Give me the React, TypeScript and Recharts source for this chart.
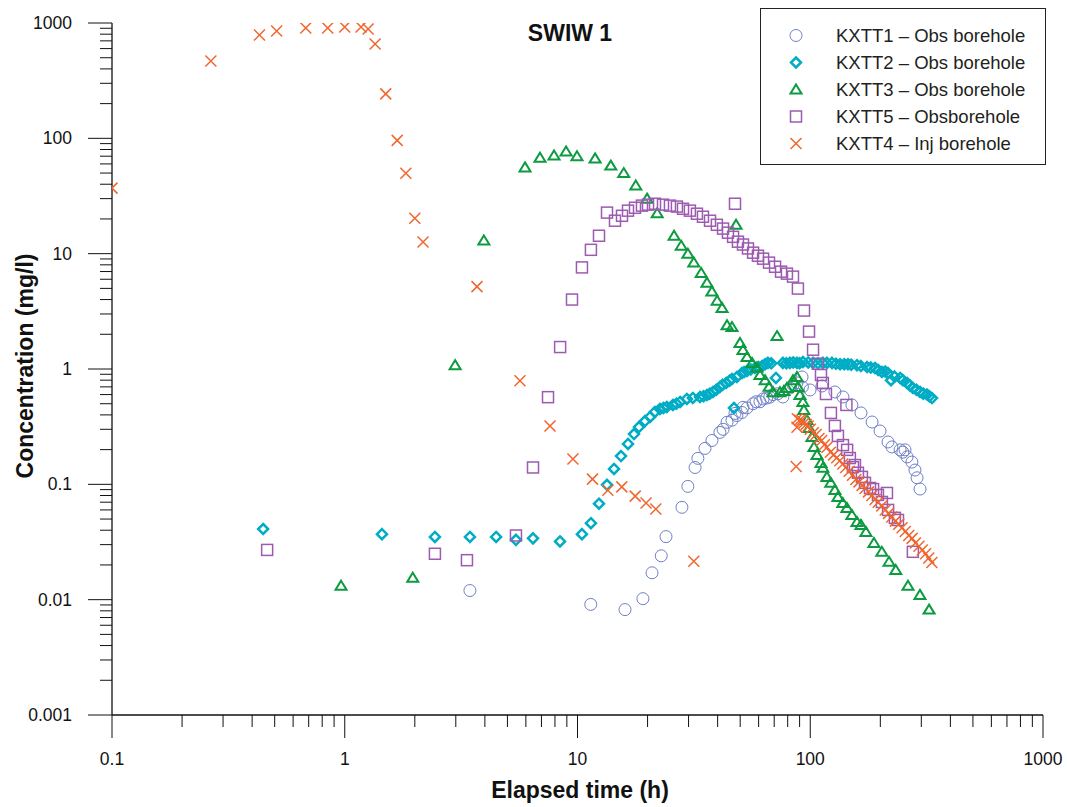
import { ScatterChart, Scatter, XAxis, YAxis } from 'recharts'

// axes
const xDecades = [0.1, 1, 10, 100, 1000]
const yDecades = [0.001, 0.01, 0.1, 1, 10, 100, 1000]
const steps = [1, 2, 3, 4, 5, 6, 7, 8, 9]
const xTicks = xDecades.slice(0, -1).flatMap(d => steps.map(m => m * d)).concat([1000])
const yTicks = yDecades.slice(0, -1).flatMap(d => steps.map(m => m * d)).concat([1000])

// [elapsed time (h), concentration (mg/l)]
const kxtt1: [number, number][] = [
  [3.45, 0.012], [11.4, 0.0091], [16, 0.0082], [19.1, 0.0102], [20.9, 0.0171], [22.9, 0.024],
  [24, 0.0352], [28.1, 0.0632], [29.8, 0.096], [32, 0.14], [32.9, 0.168], [35.3, 0.205],
  [37.8, 0.24], [40.9, 0.282], [42.2, 0.3], [43.9, 0.345], [46.1, 0.36], [47.5, 0.412],
  [48.4, 0.395], [50.9, 0.42], [51.4, 0.465], [53.5, 0.46], [56.8, 0.5], [58.5, 0.52],
  [60.8, 0.52], [62.7, 0.55], [64.9, 0.56], [67, 0.57], [69.2, 0.6], [72.5, 0.61],
  [76.3, 0.572], [81.8, 0.684], [84.3, 0.726], [87.7, 0.757], [92.2, 0.853], [92.5, 0.698],
  [99.8, 0.658], [112.3, 0.712], [127.6, 0.632], [138.2, 0.572], [151, 0.488], [165.2, 0.416],
  [184.3, 0.347], [199.4, 0.29], [215.8, 0.233], [224.4, 0.211], [243.2, 0.199], [250, 0.19],
  [255.4, 0.199], [260.6, 0.173], [273.4, 0.156], [281.8, 0.133], [287.6, 0.114], [296.3, 0.091],
]

const kxtt2: [number, number][] = [
  [0.446, 0.041], [1.445, 0.037], [2.44, 0.035], [3.45, 0.035], [4.47, 0.035], [5.44, 0.033],
  [6.44, 0.034], [8.41, 0.032], [10.45, 0.037], [11.42, 0.046], [12.37, 0.068], [13.39, 0.099],
  [14.35, 0.136], [15.38, 0.176], [16.48, 0.224], [17.49, 0.273], [18.37, 0.314], [19.5, 0.354],
  [20.5, 0.384], [21.5, 0.424], [22.6, 0.45], [23.4, 0.46], [24.2, 0.469], [25.7, 0.488],
  [26.6, 0.5], [27.6, 0.518], [29.5, 0.55], [31.3, 0.561], [33.6, 0.572], [34.8, 0.58],
  [36, 0.595], [37, 0.61], [38.2, 0.632], [39.5, 0.66], [40.9, 0.698], [42, 0.73],
  [43.5, 0.757], [45, 0.79], [46.1, 0.819], [47, 0.459], [48.4, 0.853], [50.9, 0.923],
  [52, 0.94], [53.5, 0.961], [55.5, 0.99], [57.9, 1.02], [60, 1.04], [62.1, 1.06],
  [64, 1.1], [65.8, 1.13], [68, 1.12], [71.2, 0.836], [76.3, 1.13], [79, 1.12],
  [81.8, 1.13], [84.5, 1.14], [87.7, 1.13], [90, 1.12], [93, 1.15], [98, 1.14],
  [102.8, 1.13], [108, 1.12], [113.4, 1.13], [118, 1.13], [124, 1.13], [129, 1.11],
  [134.3, 1.1], [140, 1.1], [145.2, 1.1], [150, 1.09], [158.8, 1.08], [165, 1.06],
  [175.4, 1.04], [182, 1.03], [189.7, 1.02], [196, 0.98], [203.2, 0.942], [210, 0.95],
  [215.8, 0.923], [222.3, 0.8], [230, 0.86], [243.2, 0.836], [250, 0.8], [260.6, 0.757],
  [268, 0.72], [276.3, 0.684], [286, 0.66], [296.3, 0.632], [306, 0.61], [317.5, 0.6],
  [325, 0.58], [333.5, 0.56],
]

const kxtt3: [number, number][] = [
  [0.964, 0.0132], [1.96, 0.0155], [2.98, 1.08], [3.96, 13], [5.95, 56], [6.9, 68],
  [7.93, 71], [8.93, 77], [9.95, 70], [11.9, 67], [13.9, 58], [15.8, 50],
  [17.8, 39], [19.9, 30], [22, 22.4], [26, 14.3], [27.9, 11.7], [29.8, 10],
  [31.6, 8.4], [34, 6.8], [36, 5.6], [37.8, 4.7], [39.8, 3.9], [41.8, 3.38],
  [43.9, 2.4], [46.1, 2.31], [48, 17.8], [49.9, 1.68], [51.4, 1.46], [53.5, 1.27],
  [56.2, 1.13], [59, 1.03], [60.8, 0.887], [64, 0.8], [66.5, 0.7], [69.2, 0.63],
  [72, 1.93], [74.1, 0.63], [77, 0.645], [79.4, 0.684], [84.3, 0.8], [87.7, 0.853],
  [88.6, 0.698], [90.3, 0.595], [93, 0.518], [93.9, 0.441], [96.8, 0.361], [98.8, 0.308],
  [101.7, 0.257], [103.8, 0.211], [106.9, 0.18], [111.2, 0.153], [113.3, 0.139], [117.9, 0.116],
  [122.5, 0.103], [127.6, 0.0894], [131.5, 0.0778], [138, 0.069], [143.8, 0.0624], [151, 0.0543],
  [158.8, 0.0472], [165.2, 0.0445], [173.4, 0.0387], [187.8, 0.031], [203, 0.026], [218, 0.0213],
  [233, 0.0181], [263, 0.0132], [296, 0.011], [324, 0.0082],
]

const kxtt5: [number, number][] = [
  [0.464, 0.027], [2.44, 0.025], [3.35, 0.022], [5.44, 0.036], [6.44, 0.14], [7.47, 0.57],
  [8.42, 1.55], [9.47, 4.0], [10.45, 7.6], [11.42, 10.8], [12.37, 14.3], [13.39, 22.7],
  [14.49, 19.3], [15.53, 21.3], [16.48, 23.6], [17.66, 25], [18.92, 26.1], [20.09, 26.6],
  [21.53, 27.1], [23.3, 26.6], [24.96, 26.1], [26.74, 25.6], [28.4, 24.5], [30.4, 23.6],
  [32.6, 22.2], [34.6, 20.9], [37.1, 19.3], [39.7, 17.8], [42.2, 16.5], [44.3, 15.2],
  [46.6, 14.0], [47.5, 27.1], [48.9, 12.7], [51.4, 12], [54, 11.1], [56.8, 10.2],
  [59.6, 9.6], [62.7, 9.05], [66.5, 8.36], [70.6, 7.7], [74.9, 6.98], [79.4, 6.71],
  [84.3, 6.32], [88.5, 4.98], [94, 3.21], [98.8, 2.11], [102.8, 1.47], [107.9, 1.11],
  [111.2, 0.887], [113.3, 0.757], [116.8, 0.607], [122.7, 0.416], [127.6, 0.321], [131.5, 0.263],
  [138.2, 0.219], [143, 0.488], [144, 0.199], [148, 0.169], [152.6, 0.141], [155.6, 0.147],
  [160.3, 0.126], [166.7, 0.116], [171.8, 0.103], [180.6, 0.093], [186.2, 0.091], [195.4, 0.081],
  [203.2, 0.0703], [213.6, 0.0842], [216, 0.06], [231, 0.0512], [238.2, 0.0491], [276, 0.026],
]

const kxtt4: [number, number][] = [
  [0.1, 37], [0.266, 468], [0.43, 787], [0.51, 853], [0.68, 905], [0.845, 905],
  [1.0, 923], [1.175, 923], [1.26, 887], [1.35, 658], [1.5, 243], [1.68, 96],
  [1.83, 49.8], [2.0, 20.3], [2.17, 12.6], [3.7, 5.18], [5.66, 0.79], [7.62, 0.32],
  [9.56, 0.166], [11.6, 0.111], [13.5, 0.089], [15.5, 0.095], [17.7, 0.079], [19.7, 0.069],
  [21.7, 0.061], [31.6, 0.0215], [87, 0.143], [87.7, 0.312],
  [88, 0.37], [90, 0.36], [92, 0.36], [94, 0.34], [96, 0.33], [98, 0.32],
  [100, 0.3], [103, 0.28], [106, 0.27], [109, 0.25], [112, 0.24], [115, 0.22],
  [118, 0.21], [122, 0.19], [126, 0.18], [130, 0.17], [134, 0.16], [138, 0.15],
  [142, 0.14], [147, 0.13], [152, 0.12], [157, 0.11], [162, 0.105], [167, 0.098],
  [172, 0.092], [178, 0.086], [184, 0.08], [190, 0.074], [196, 0.07], [203, 0.065],
  [210, 0.06], [217, 0.056], [224, 0.052], [232, 0.048], [240, 0.045], [248, 0.042],
  [256, 0.039], [265, 0.036], [274, 0.034], [283, 0.031], [293, 0.029], [303, 0.027],
  [313, 0.025], [323, 0.023], [333, 0.021],
]

const FONT = '"Liberation Sans", Arial, sans-serif'

const CircleMark = ({ cx, cy }: any) => (
  <circle cx={cx} cy={cy} r={6} fill="none" stroke="#6f80c6" strokeWidth={1} />
)
const DiamondMark = ({ cx, cy }: any) => (
  <path d={`M${cx},${cy - 5} L${cx + 5},${cy} L${cx},${cy + 5} L${cx - 5},${cy} Z`} fill="none" stroke="#00adc5" strokeWidth={2.5} />
)
const TriangleMark = ({ cx, cy }: any) => (
  <path d={`M${cx},${cy - 5} L${cx + 5.5},${cy + 4} L${cx - 5.5},${cy + 4} Z`} fill="none" stroke="#0c9b40" strokeWidth={2} />
)
const SquareMark = ({ cx, cy }: any) => (
  <rect x={cx - 5.5} y={cy - 5.5} width={11} height={11} fill="none" stroke="#9c5bb0" strokeWidth={1.5} />
)
const CrossMark = ({ cx, cy }: any) => (
  <path d={`M${cx - 5.5},${cy - 5.5} L${cx + 5.5},${cy + 5.5} M${cx - 5.5},${cy + 5.5} L${cx + 5.5},${cy - 5.5}`} stroke="#f0662e" strokeWidth={1.5} />
)

const SERIES = [
  { name: 'KXTT1 – Obs borehole', data: kxtt1, Mark: CircleMark },
  { name: 'KXTT2 – Obs borehole', data: kxtt2, Mark: DiamondMark },
  { name: 'KXTT3 – Obs borehole', data: kxtt3, Mark: TriangleMark },
  { name: 'KXTT5 – Obsborehole', data: kxtt5, Mark: SquareMark },
  { name: 'KXTT4 – Inj borehole', data: kxtt4, Mark: CrossMark },
]

const XTick = ({ x, y, payload }: any) => {
  const major = xDecades.includes(payload.value)
  return (
    <g>
      <line x1={x} x2={x} y1={y} y2={y + (major ? 23 : 12)} stroke="#111" strokeWidth={1} />
      {major && (
        <text x={x} y={y + 50} textAnchor="middle" fontSize={17.5} fill="#111" fontFamily={FONT}>
          {String(payload.value)}
        </text>
      )}
    </g>
  )
}

const YTick = ({ x, y, payload }: any) => {
  const major = yDecades.includes(payload.value)
  return (
    <g>
      <line x1={x - (major ? 24 : 12)} x2={x} y1={y} y2={y} stroke="#111" strokeWidth={1} />
      {major && (
        <text x={x - 40} y={y + 6} textAnchor="end" fontSize={17.5} fill="#111" fontFamily={FONT}>
          {String(payload.value)}
        </text>
      )}
    </g>
  )
}

export default function App() {
  return (
    <div style={{ position: 'absolute', left: 0, top: 0, width: 1067, height: 807, background: '#fff', fontFamily: FONT }}>
      <ScatterChart width={1067} height={807} margin={{ top: 23, right: 24, bottom: 0, left: 32 }}>
        <XAxis
          type="number"
          dataKey="t"
          scale="log"
          domain={[0.1, 1000]}
          ticks={xTicks}
          interval={0}
          allowDataOverflow
          height={92}
          tickSize={0}
          tickMargin={0}
          tickLine={false}
          axisLine={{ stroke: '#111', strokeWidth: 1.3 }}
          tick={<XTick />}
        />
        <YAxis
          type="number"
          dataKey="c"
          scale="log"
          domain={[0.001, 1000]}
          ticks={yTicks}
          interval={0}
          allowDataOverflow
          width={80}
          tickSize={0}
          tickMargin={0}
          tickLine={false}
          axisLine={{ stroke: '#111', strokeWidth: 1.3 }}
          tick={<YTick />}
        />
        {SERIES.map(s => (
          <Scatter
            key={s.name}
            name={s.name}
            data={s.data.map(([t, c]) => ({ t, c }))}
            isAnimationActive={false}
            shape={(p: any) => <s.Mark cx={p.cx} cy={p.cy} />}
          />
        ))}
      </ScatterChart>

      <div style={{ position: 'absolute', left: 570, top: 33, transform: 'translate(-50%, -50%)', fontWeight: 'bold', fontSize: 23, color: '#111', whiteSpace: 'nowrap' }}>
        SWIW 1
      </div>
      <div style={{ position: 'absolute', left: 580, top: 790, transform: 'translate(-50%, -50%)', fontWeight: 'bold', fontSize: 23, color: '#111', whiteSpace: 'nowrap' }}>
        Elapsed time (h)
      </div>
      <div style={{ position: 'absolute', left: 25, top: 366, transform: 'translate(-50%, -50%) rotate(-90deg)', fontWeight: 'bold', fontSize: 23, color: '#111', whiteSpace: 'nowrap' }}>
        Concentration (mg/l)
      </div>

      <div style={{ position: 'absolute', left: 760, top: 8, width: 284, height: 155, border: '1px solid #222', background: '#fff' }}>
        {SERIES.map((s, i) => (
          <div key={s.name} style={{ position: 'absolute', left: 0, top: 13 + i * 27, height: 27, display: 'flex', alignItems: 'center' }}>
            <svg width={70} height={27} style={{ display: 'block' }}>
              <s.Mark cx={35} cy={13.5} />
            </svg>
            <span style={{ fontSize: 18.5, color: '#231f20', marginLeft: 5, whiteSpace: 'nowrap' }}>{s.name}</span>
          </div>
        ))}
      </div>
    </div>
  )
}
